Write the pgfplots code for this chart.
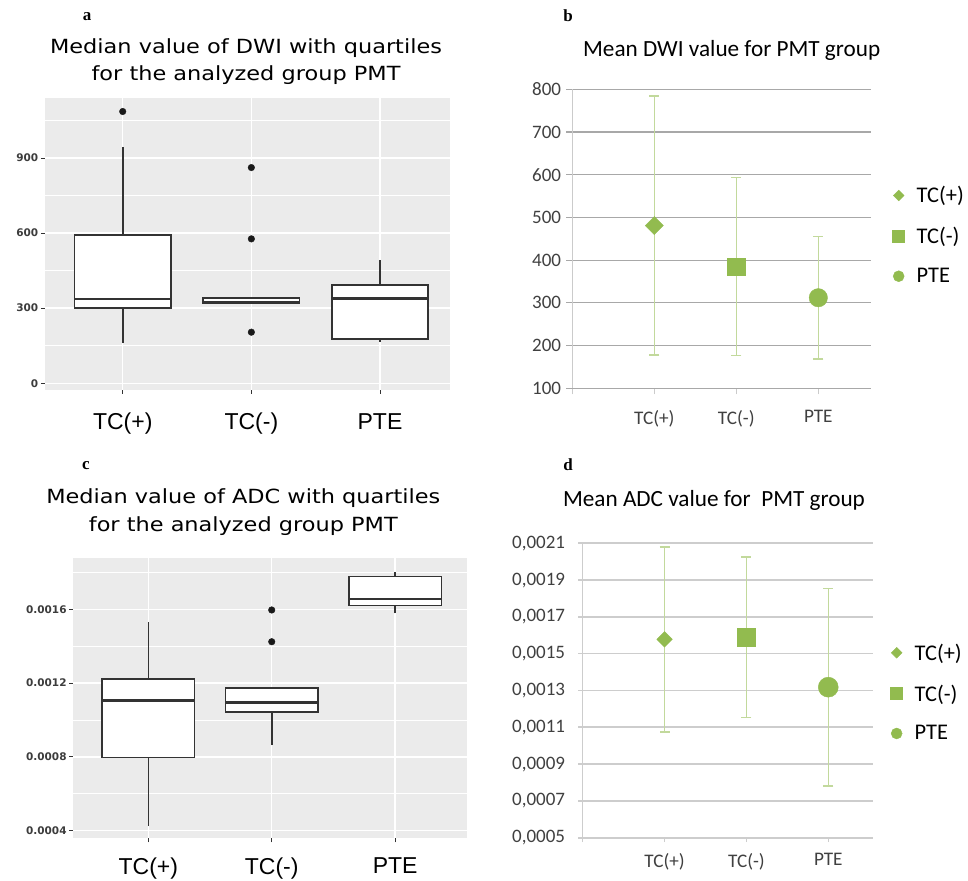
\documentclass[border=0pt]{standalone}
\usepackage{fontspec}
\usepackage{graphicx}
\usepackage{pgfplots}
\pgfplotsset{compat=1.18}
\setmainfont{Liberation Sans}
\newfontfamily\tfont{DejaVu Sans}
\newfontfamily\cfont{Carlito}
\newfontfamily\sfont{Liberation Serif}
\definecolor{panelbg}{HTML}{EBEBEB}
\definecolor{boxline}{HTML}{333333}
\definecolor{xgreen}{HTML}{92BB4F}
\definecolor{egreen}{HTML}{C2D99C}
\definecolor{gridb}{HTML}{A8A8A8}
\definecolor{gridd}{HTML}{CDCDCD}
\definecolor{axl}{HTML}{CBCBCB}
\definecolor{ticktxt}{HTML}{3C3C3C}
\definecolor{xltxt}{HTML}{404040}

\pgfplotsset{
  ggbox/.style={
    scale only axis, anchor=south west,
    axis background/.style={fill=panelbg},
    axis line style={draw=none},
    xtick={1,2,3}, xticklabels={TC(+),TC(-),PTE},
    grid=both,
    major grid style={white, line width=1.4bp},
    minor grid style={white, line width=0.7bp},
    tick align=outside, tick pos=left,
    major tick length=4bp, minor tick length=0bp,
    tick style={boxline, line width=0.9bp},
    yticklabel style={font=\tfont\bfseries\fontsize{10.5bp}{12bp}\selectfont, text=ticktxt, inner sep=0bp, xshift=-2.5bp},
    xticklabel style={font=\fontsize{23bp}{26bp}\selectfont, text=black, inner sep=0bp, yshift=-19bp},
    scaled y ticks=false,
    clip=false,
  },
  whisk/.style={draw=boxline, line width=1.6bp, no marks, forget plot},
  boxs/.style={draw=boxline, fill=white, line width=1.6bp, no marks, line join=miter, forget plot},
  med/.style={draw=boxline, line width=2.8bp, no marks, forget plot},
  outl/.style={only marks, mark=*, mark size=3.3bp, mark options={draw=black!90, fill=black!90, line width=0.4bp}, forget plot},
  xlchart/.style={
    scale only axis, anchor=south west,
    xtick={0,1,2,3}, xticklabels={,TC(+),TC(-),PTE},
    ymajorgrids,
    axis x line*=bottom, axis y line*=left,
    tick align=outside, major tick length=6bp,
    yticklabel style={font=\cfont\fontsize{19bp}{22bp}\selectfont, text=xltxt, inner sep=0bp},
    xticklabel style={font=\cfont\fontsize{19.2bp}{22bp}\selectfont, text=xltxt, inner sep=0bp},
    legend style={draw=none, fill=none, font=\cfont\fontsize{22.4bp}{26bp}\selectfont, anchor=north west, legend cell align=left, row sep=19bp, inner sep=0bp},
    scaled y ticks=false,
    clip=false,
  },
  xlpt/.style={only marks, forget plot, color=xgreen,
    error bars/y dir=both, error bars/y explicit,
    error bars/error mark=-,
    error bars/error bar style={egreen, line width=1.5bp},
    error bars/error mark options={rotate=90, egreen, line width=1.5bp, mark size=5bp}},
}

\begin{document}
\begin{tikzpicture}
\path[use as bounding box] (0bp,0bp) rectangle (968bp,881bp);

% ---------- panel a ----------
\begin{axis}[ggbox, at={(45bp,491bp)}, width=405bp, height=292bp,
  xmin=0.396, xmax=3.544, ymin=-27, ymax=1140,
  ytick={0,300,600,900}, yticklabels={0,300,600,900},
  minor ytick={150,450,750,1050}]
% TC(+)
\addplot[whisk] coordinates {(1,160) (1,946)};
\addplot[boxs] coordinates {(0.625,300) (1.375,300) (1.375,593) (0.625,593)} -- cycle;
\addplot[med] coordinates {(0.625,337) (1.375,337)};
\addplot[outl] coordinates {(1,1086)};
% TC(-)
\addplot[boxs] coordinates {(1.625,318) (2.375,318) (2.375,340) (1.625,340)} -- cycle;
\addplot[med] coordinates {(1.625,325) (2.375,325)};
\addplot[outl] coordinates {(2,862) (2,577) (2,204)};
% PTE
\addplot[whisk] coordinates {(3,166) (3,493)};
\addplot[boxs] coordinates {(2.625,176) (3.375,176) (3.375,393) (2.625,393)} -- cycle;
\addplot[med] coordinates {(2.625,340) (3.375,340)};
\end{axis}

% ---------- panel c ----------
\begin{axis}[ggbox, at={(73.3bp,42.7bp)}, width=393.4bp, height=280bp,
  xmin=0.392, xmax=3.58, ymin=0.000359, ymax=0.001876,
  ytick={0.0004,0.0008,0.0012,0.0016}, yticklabels={0.0004,0.0008,0.0012,0.0016},
  minor ytick={0.0006,0.001,0.0014,0.0018},
  xticklabel style={yshift=3.5bp}]
% TC(+)
\addplot[whisk] coordinates {(1,0.000425) (1,0.001533)};
\addplot[boxs] coordinates {(0.625,0.000796) (1.375,0.000796) (1.375,0.001223) (0.625,0.001223)} -- cycle;
\addplot[med] coordinates {(0.625,0.001104) (1.375,0.001104)};
% TC(-)
\addplot[whisk] coordinates {(2,0.000864) (2,0.001173)};
\addplot[boxs] coordinates {(1.625,0.001043) (2.375,0.001043) (2.375,0.001173) (1.625,0.001173)} -- cycle;
\addplot[med] coordinates {(1.625,0.001093) (2.375,0.001093)};
\addplot[outl] coordinates {(2,0.001596) (2,0.001424)};
% PTE
\addplot[whisk] coordinates {(3,0.001578) (3,0.0018)};
\addplot[boxs] coordinates {(2.625,0.00162) (3.375,0.00162) (3.375,0.001777) (2.625,0.001777)} -- cycle;
\addplot[med] coordinates {(2.625,0.001656) (3.375,0.001656)};
\end{axis}

% ---------- panel b ----------
\begin{axis}[xlchart, at={(572.3bp,492.7bp)}, width=298.4bp, height=299bp,
  xmin=0, xmax=3.639, ymin=100, ymax=800,
  ytick={100,200,300,400,500,600,700,800}, yticklabels={100,200,300,400,500,600,700,800},
  major grid style={gridb, line width=1.1bp},
  x axis line style={gridb, line width=1.1bp}, y axis line style={axl, line width=1bp},
  ytick style={gridb, line width=1.1bp}, xtick style={axl, line width=1bp},
  yticklabel style={xshift=-5bp}, xticklabel style={yshift=-16bp},
  legend style={at={(1.073,0.682)}}]
\addplot[xlpt, mark=square*, mark size=6.4bp, mark options={rotate=45, fill=xgreen, draw=xgreen}] coordinates {(1,481) +- (0,303)};
\addplot[xlpt, mark=square*, mark size=8.8bp, mark options={fill=xgreen, draw=xgreen}] coordinates {(2,385) +- (0,208)};
\addplot[xlpt, mark=*, mark size=9.2bp, mark options={fill=xgreen, draw=xgreen}] coordinates {(3,312) +- (0,143)};
\addlegendimage{only marks, mark=square*, mark size=3.8bp, mark options={rotate=45, fill=xgreen, draw=xgreen}}
\addlegendentry{\hspace{10bp}TC(+)}
\addlegendimage{only marks, mark=square*, mark size=6bp, mark options={fill=xgreen, draw=xgreen}}
\addlegendentry{\hspace{10bp}TC(-)}
\addlegendimage{only marks, mark=*, mark size=5.5bp, mark options={fill=xgreen, draw=xgreen}}
\addlegendentry{\hspace{10bp}PTE}
\end{axis}

% ---------- panel d ----------
\begin{axis}[xlchart, at={(582.7bp,43.3bp)}, width=290.6bp, height=294.4bp,
  xmin=0, xmax=3.55, ymin=0.0005, ymax=0.0021,
  ytick={0.0005,0.0007,0.0009,0.0011,0.0013,0.0015,0.0017,0.0019,0.0021},
  yticklabels={{0,0005},{0,0007},{0,0009},{0,0011},{0,0013},{0,0015},{0,0017},{0,0019},{0,0021}},
  major grid style={gridd, line width=1.6bp},
  x axis line style={gridd, line width=1.6bp}, y axis line style={gridd, line width=1.4bp},
  ytick style={gridd, line width=1.6bp}, xtick style={gridd, line width=1.2bp},
  major tick length=4.4bp,
  yticklabel style={xshift=-13bp}, xticklabel style={yshift=-11bp},
  legend style={at={(1.059,0.666)}}]
\addplot[xlpt, mark=square*, mark size=5.5bp, mark options={rotate=45, fill=xgreen, draw=xgreen}] coordinates {(1,0.001578) +- (0,0.000503)};
\addplot[xlpt, mark=square*, mark size=9.2bp, mark options={fill=xgreen, draw=xgreen}] coordinates {(2,0.001589) +- (0,0.000437)};
\addplot[xlpt, mark=*, mark size=10bp, mark options={fill=xgreen, draw=xgreen}] coordinates {(3,0.001318) +- (0,0.000536)};
\addlegendimage{only marks, mark=square*, mark size=3.8bp, mark options={rotate=45, fill=xgreen, draw=xgreen}}
\addlegendentry{\hspace{10bp}TC(+)}
\addlegendimage{only marks, mark=square*, mark size=6bp, mark options={fill=xgreen, draw=xgreen}}
\addlegendentry{\hspace{10bp}TC(-)}
\addlegendimage{only marks, mark=*, mark size=5.5bp, mark options={fill=xgreen, draw=xgreen}}
\addlegendentry{\hspace{10bp}PTE}
\end{axis}

% ---------- titles and panel letters ----------
\node[align=center, font=\tfont\fontsize{19.5bp}{27bp}\selectfont] at (246bp,819.5bp)
  {\scalebox{1.15}[1]{Median value of DWI with quartiles}\\\scalebox{1.15}[1]{for the analyzed group PMT}};
\node[align=center, font=\tfont\fontsize{19.5bp}{27.7bp}\selectfont] at (243.3bp,368.8bp)
  {\scalebox{1.15}[1]{Median value of ADC with quartiles}\\\scalebox{1.15}[1]{for the analyzed group PMT}};
\node[font=\cfont\fontsize{23.2bp}{28bp}\selectfont] at (731.7bp,830.3bp) {Mean DWI value for PMT group};
\node[font=\cfont\fontsize{23.2bp}{28bp}\selectfont] at (714bp,380.3bp) {Mean ADC value for\ \ PMT group};
\node[font=\sfont\bfseries\fontsize{17bp}{20bp}\selectfont] at (87bp,864bp) {a};
\node[font=\sfont\bfseries\fontsize{17bp}{20bp}\selectfont] at (568bp,865bp) {b};
\node[font=\sfont\bfseries\fontsize{17bp}{20bp}\selectfont] at (86bp,415bp) {c};
\node[font=\sfont\bfseries\fontsize{17bp}{20bp}\selectfont] at (568bp,416bp) {d};
\end{tikzpicture}
\end{document}
